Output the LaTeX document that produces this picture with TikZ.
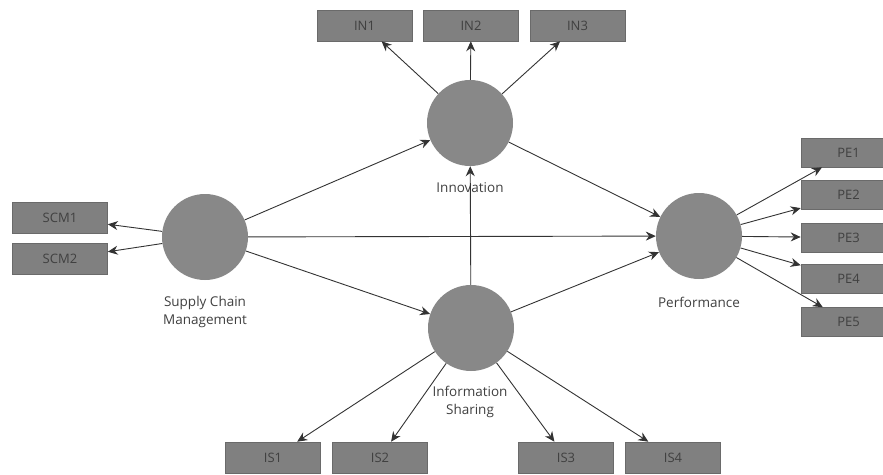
\documentclass[tikz,border=0pt]{standalone}
\usepackage{fontspec}
\setmainfont{Open Sans}
\usetikzlibrary{arrows.meta}

\definecolor{lvgray}{HTML}{888888}
\definecolor{boxgray}{HTML}{808080}
\definecolor{boxline}{HTML}{6A6A6A}
\definecolor{linegray}{HTML}{333333}
\definecolor{txtgray}{HTML}{404040}

\begin{document}
\begin{tikzpicture}[x=1pt, y=-1pt,
        latent/.style={circle, fill=lvgray, minimum size=86pt, inner sep=0pt},
        indic/.style={rectangle, fill=boxgray, draw=boxline, line width=0.6pt,
            minimum width=95pt, minimum height=31pt, inner sep=0pt,
            font=\fontsize{13}{15}\selectfont, text=txtgray},
        lvlabel/.style={align=center, font=\fontsize{13.5}{18}\selectfont, text=txtgray},
        path/.style={-{Stealth[length=10pt,width=9pt]}, draw=linegray, line width=0.9pt}]
        \useasboundingbox (0,0) rectangle (883,474);

        % latent variables
        \node[latent] (IN) at (470,123) {};
        \node[latent] (SCM) at (205,237) {};
        \node[latent] (PERF) at (699,236) {};
        \node[latent] (IS) at (471,328) {};

        \node[lvlabel] (INlab) at (470,188) {Innovation};
        \node[lvlabel] (SCMlab) at (205,312) {Supply Chain\\Management};
        \node[lvlabel] (PERFlab) at (699,302) {Performance};
        \node[lvlabel] (ISlab) at (470,402) {Information\\Sharing};

        % indicators
        \node[indic] (IN1) at (364.5,25.5) {IN1};
        \node[indic] (IN2) at (471,25.5) {IN2};
        \node[indic] (IN3) at (577.5,25.5) {IN3};

        \node[indic] (SCM1) at (60,218) {SCM1};
        \node[indic] (SCM2) at (60,259) {SCM2};

        \node[indic, minimum height=29pt] (PE1) at (848.5,152.5) {PE1};
        \node[indic, minimum height=29pt] (PE2) at (848.5,195) {PE2};
        \node[indic, minimum height=29pt] (PE3) at (848.5,237.5) {PE3};
        \node[indic, minimum height=29pt] (PE4) at (848.5,279) {PE4};
        \node[indic, minimum height=29pt] (PE5) at (848.5,322) {PE5};

        \node[indic] (IS1) at (273,457.5) {IS1};
        \node[indic] (IS2) at (380,457.5) {IS2};
        \node[indic] (IS3) at (566,457.5) {IS3};
        \node[indic] (IS4) at (673,457.5) {IS4};

        % structural paths
        \draw[path] (SCM) -- (IN);
        \draw[path] (SCM) -- (PERF);
        \draw[path] (SCM) -- (IS);
        \draw[path] (IN) -- (PERF);
        \draw[path] (IS) -- (IN);
        \draw[path] (IS) -- (PERF);

        % loadings
        \foreach \i in {1,2,3}
            \draw[path] (IN) -- (IN\i);
        \foreach \i in {1,2}
            \draw[path] (SCM) -- (SCM\i);
        \foreach \i in {1,...,5}
            \draw[path] (PERF) -- (PE\i);
        \foreach \i in {1,...,4}
            \draw[path] (IS) -- (IS\i);
    \end{tikzpicture}
\end{document}
